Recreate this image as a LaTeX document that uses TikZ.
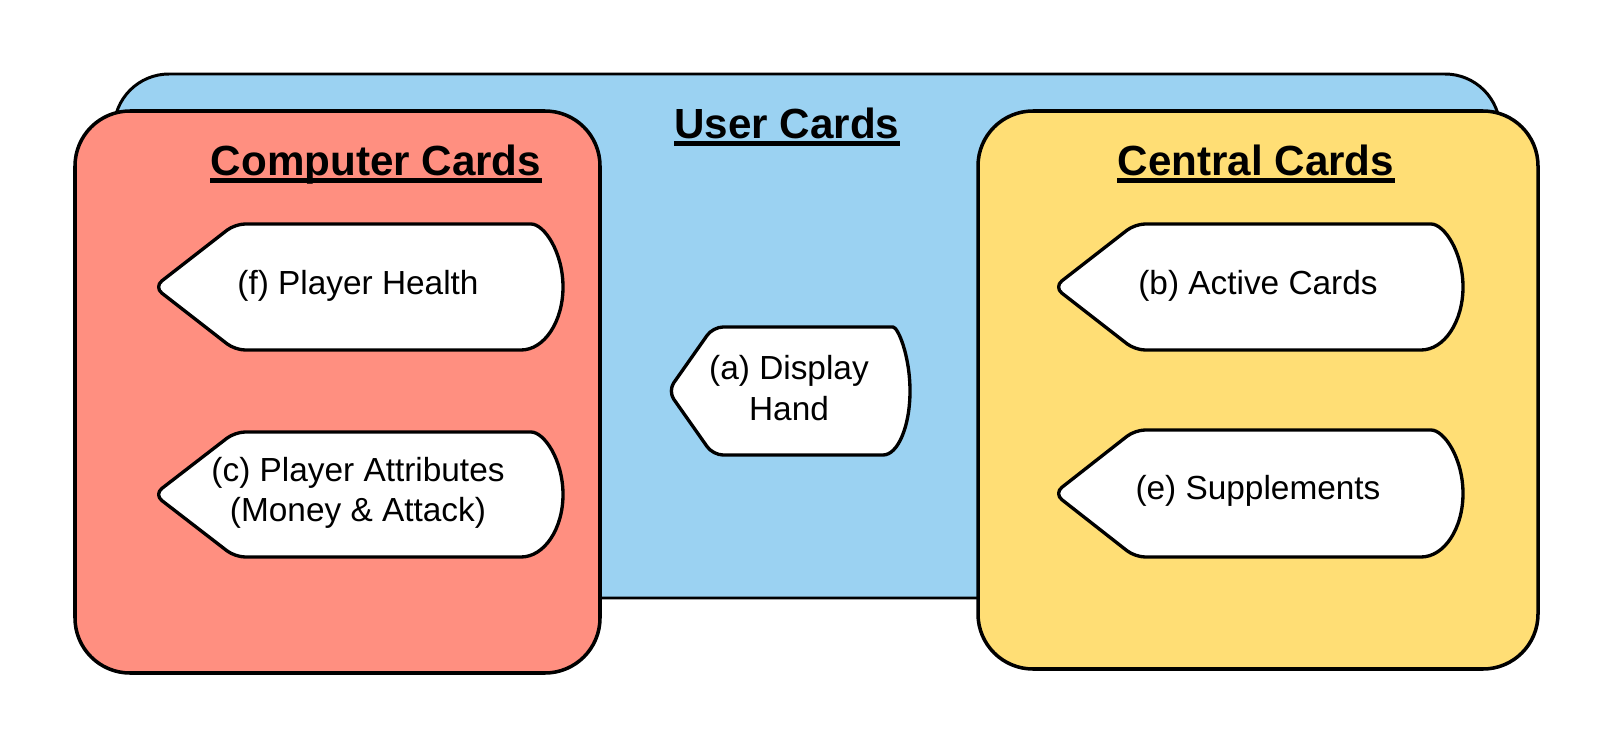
\documentclass[tikz,border=0pt]{standalone}
\usepackage{fontspec}
\setmainfont{Liberation Sans}
\tikzset{
  panel/.style={
    line width=2pt,
    draw=black,
    rounded corners=1.1cm
  },
  panel-blue/.style={panel, fill=userblue, line width=1.7pt},
  panel-red/.style={panel, fill=computerred},
  panel-yellow/.style={panel, fill=centralyellow},
  tag-line/.style={line width=1.9pt, draw=black, fill=white, line join=round},
  tag-text/.style={font=\fontsize{19}{23}\selectfont, align=center, inner sep=0pt},
  title/.style={font=\bfseries\fontsize{24}{28}\selectfont, anchor=base, inner sep=0pt},
  title-rule/.style={line width=2.5pt}
}
\definecolor{userblue}{RGB}{155,210,242}
\definecolor{computerred}{RGB}{255,143,128}
\definecolor{centralyellow}{RGB}{255,222,117}
% #1,#2 top left, #3,#4 bottom right, #5 slant, #6 bulge
\newcommand{\tagshape}[6]{
  \filldraw[tag-line] ({#3-#6},#2)
    .. controls ({#3-0.448*#6},#2) and (#3,{#2+0.224*(#4-#2)}) .. (#3,{(#2+#4)/2})
    .. controls (#3,{#4-0.224*(#4-#2)}) and ({#3-0.448*#6},#4) .. ({#3-#6},#4)
    [rounded corners=0.2cm] -- ({#1+#5},#4) -- (#1,{(#2+#4)/2}) -- ({#1+#5},#2) -- cycle;
}
% underline below a title node
\newcommand{\titlerule}[1]{
  \draw[title-rule] ([yshift=-3.2pt]#1.base west) -- ([yshift=-3.2pt]#1.base east);
}

\begin{document}
\begin{tikzpicture}[x=0.02cm, y=-0.02cm]
  \useasboundingbox (0,0) rectangle (1613,750);
  % Panels
  \draw[panel-blue] (114,74) rectangle (1500,598);
  \draw[panel-red] (75,111) rectangle (600,673);
  \draw[panel-yellow] (978,111) rectangle (1538,669);
  \node[title] (user) at (787,138) {User Cards};
  \node[title] (computer) at (376,175) {Computer Cards};
  \node[title] (central) at (1256,175) {Central Cards};
  \titlerule{user}
  \titlerule{computer}
  \titlerule{central}
  % Tags
  \tagshape{154}{224}{563}{350}{81}{42}
  \node[tag-text] (health) at (358,286) {(f) Player Health};
  \tagshape{154}{432}{563}{557}{81}{42}
  \node[tag-text] (attributes) at (358,493) {(c) Player Attributes\\(Money \& Attack)};
  \tagshape{668}{327}{910}{455}{45}{27}
  \node[tag-text] (hand) at (789,388) {(a) Display\\Hand};
  \tagshape{1054}{224}{1463}{350}{81}{42}
  \node[tag-text] (active) at (1258,286) {(b) Active Cards};
  \tagshape{1054}{430}{1463}{557}{81}{42}
  \node[tag-text] (supplements) at (1258,491) {(e) Supplements};
\end{tikzpicture}
\end{document}
